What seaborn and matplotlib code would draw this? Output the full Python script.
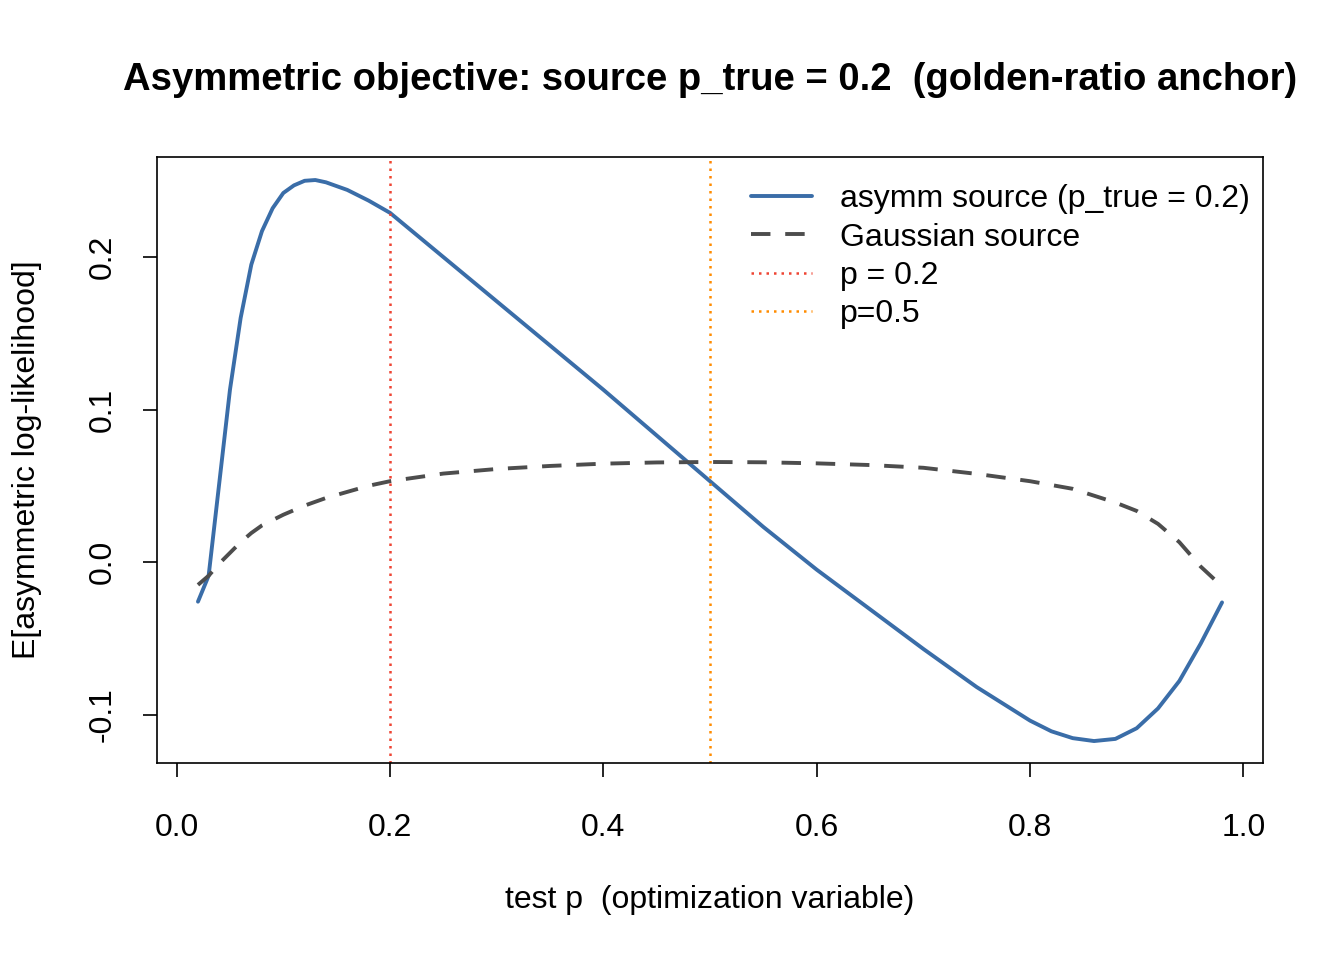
import numpy as np
import pandas as pd
import matplotlib
matplotlib.use("Agg")
import matplotlib.pyplot as plt
import seaborn as sns

# curve
p_asym = [0.02, 0.03, 0.04, 0.05, 0.06, 0.07, 0.08, 0.09, 0.10, 0.11, 0.12, 0.13,
          0.14, 0.16, 0.18, 0.20, 0.25, 0.30, 0.35, 0.40, 0.45, 0.50, 0.55, 0.60,
          0.65, 0.70, 0.75, 0.80, 0.82, 0.84, 0.86, 0.88, 0.90, 0.92, 0.94, 0.96, 0.98]
ll_asym = [-0.026, -0.009, 0.052, 0.113, 0.160, 0.195, 0.217, 0.232, 0.242, 0.247, 0.250, 0.2505,
           0.249, 0.244, 0.237, 0.229, 0.200, 0.171, 0.142, 0.113, 0.083, 0.053, 0.023, -0.005,
           -0.031, -0.057, -0.082, -0.104, -0.111, -0.1155, -0.1174, -0.116, -0.109, -0.096, -0.078, -0.0535, -0.0265]

p_gauss = [0.02, 0.03, 0.04, 0.05, 0.06, 0.07, 0.08, 0.10, 0.12, 0.14, 0.16, 0.18,
           0.20, 0.25, 0.30, 0.35, 0.40, 0.45, 0.50, 0.55, 0.60, 0.65, 0.70, 0.75,
           0.80, 0.84, 0.88, 0.90, 0.92, 0.94, 0.96, 0.98]
ll_gauss = [-0.015, -0.009, -0.001, 0.006, 0.013, 0.019, 0.024, 0.031, 0.037, 0.042, 0.046, 0.050,
            0.053, 0.058, 0.061, 0.063, 0.0645, 0.0653, 0.0656, 0.0654, 0.0647, 0.0636, 0.0618, 0.0578,
            0.0530, 0.0480, 0.039, 0.0335, 0.025, 0.013, -0.003, -0.016]

vlines = [0.2, 0.5]
vline_labels = ["p = 0.2", "p=0.5"]
vline_colors = ["#EE4433", "#FF8C00"]

x_ticks = [0.0, 0.2, 0.4, 0.6, 0.8, 1.0]
y_ticks = [-0.1, 0.0, 0.1, 0.2]

sns.set_style("ticks")
plt.rcParams["font.family"] = ["Liberation Sans", "DejaVu Sans"]
plt.rcParams["axes.unicode_minus"] = False
plt.rcParams["text.color"] = "black"
plt.rcParams["axes.labelcolor"] = "black"
plt.rcParams["xtick.color"] = "black"
plt.rcParams["ytick.color"] = "black"

fig = plt.figure(figsize=(13.44, 9.6), dpi=100)
ax = fig.add_axes([157 / 1344, 1 - 763 / 960, (1263 - 157) / 1344, (763 - 157) / 960])

df_a = pd.DataFrame({"p": p_asym, "ll": ll_asym})
df_g = pd.DataFrame({"p": p_gauss, "ll": ll_gauss})

sns.lineplot(data=df_a, x="p", y="ll", ax=ax, color="#3A6DA8", linewidth=2.8,
             label="asymm source (p_true = 0.2)")
sns.lineplot(data=df_g, x="p", y="ll", ax=ax, color="#4D4D4D", linewidth=2.8,
             label="Gaussian source")
ax.lines[-1].set_dashes((5, 3.8))
for v, lab, c in zip(vlines, vline_labels, vline_colors):
    ax.axvline(v, color=c, linewidth=1.8, linestyle=(0, (1, 2)), label=lab)

ax.set_xlim(-0.0184, 1.0184)
ax.set_ylim(-0.1318, 0.2656)
ax.set_xticks(x_ticks)
ax.set_xticklabels([f"{t:.1f}" for t in x_ticks])
ax.set_yticks(y_ticks)
ax.set_yticklabels([f"{t:.1f}" for t in y_ticks], rotation=90, va="center")
ax.tick_params(axis="both", direction="out", length=10, width=1.2, labelsize=23)
ax.tick_params(axis="x", pad=26)
ax.tick_params(axis="y", pad=18)
for s in ax.spines.values():
    s.set_visible(True)
    s.set_linewidth(1.2)
    s.set_color("black")

ax.set_xlabel("test p  (optimization variable)", fontsize=23, labelpad=30)
ax.set_ylabel("E[asymmetric log-likelihood]", fontsize=23, labelpad=33)
fig.text(710 / 1344, 1 - 80 / 960, "Asymmetric objective: source p_true = 0.2  (golden-ratio anchor)",
         ha="center", va="center", fontsize=27.5, fontweight="bold")

ax.legend(loc="upper right", bbox_to_anchor=(1.0, 0.976), frameon=False, fontsize=23,
          handlelength=1.9, handletextpad=0.9, labelspacing=0.26, borderaxespad=0.0)

fig.savefig("out.png", dpi=100)
